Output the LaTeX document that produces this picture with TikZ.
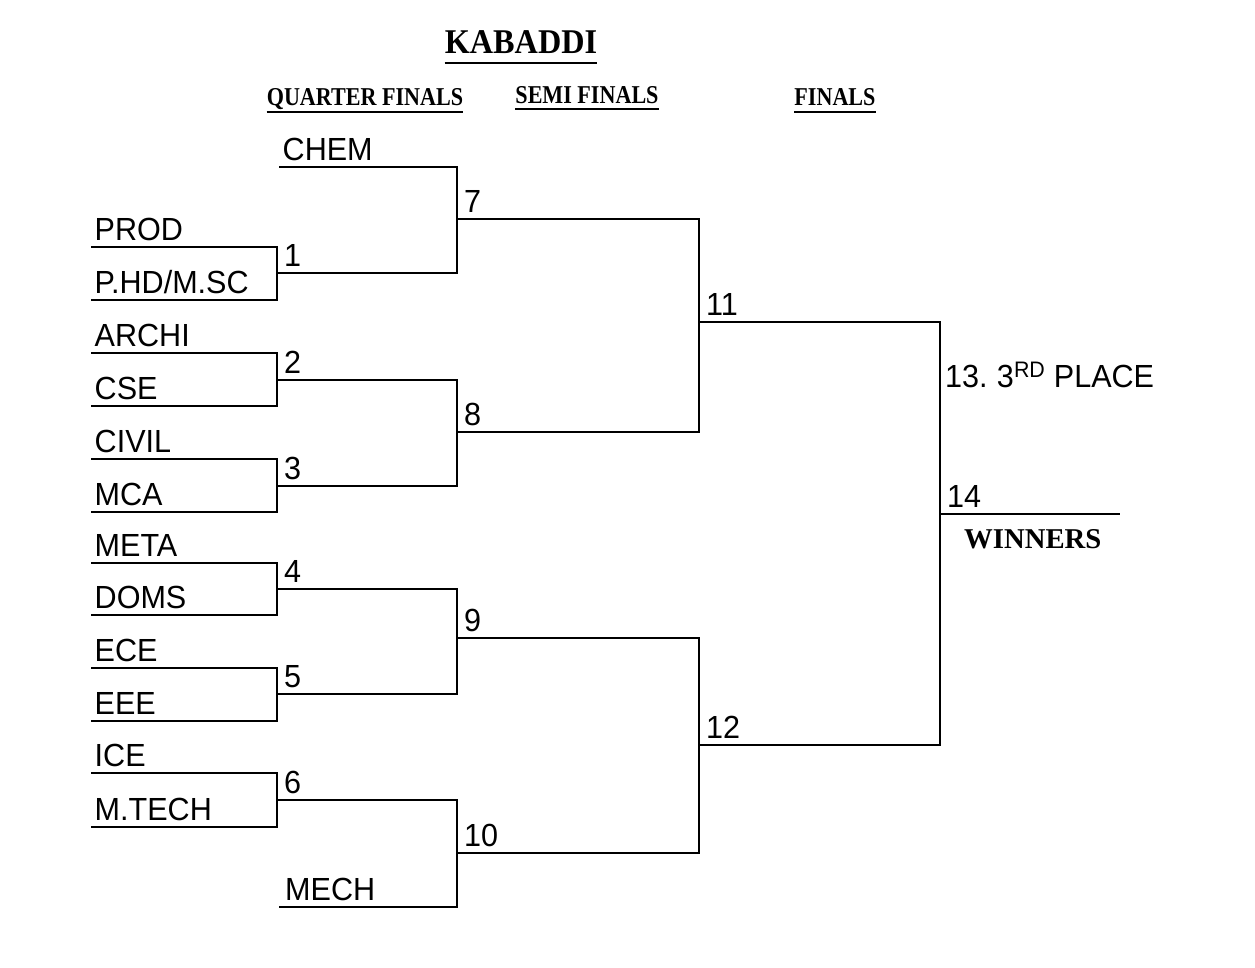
\documentclass[tikz,border=0pt]{standalone}
\usepackage{fontspec}
\setmainfont{Liberation Sans}[FakeStretch=0.955]
\newfontfamily\headserif[FakeStretch=0.86]{Liberation Serif}
\newfontfamily\titleserif[FakeStretch=0.93]{Liberation Serif}
\newfontfamily\plainserif{Liberation Serif}
\usepackage{tikz}
\usetikzlibrary{positioning,calc}
\tikzset{
  team/.style={anchor=south west, inner xsep=3.5pt, inner ysep=6pt, text depth=0pt,
    font=\fontsize{32}{38}\selectfont},
  num/.style={anchor=base west, inner sep=0pt, xshift=7pt, yshift=7pt,
    font=\fontsize{32}{38}\selectfont},
  head/.style={anchor=base, inner sep=0pt, font=\headserif\bfseries\fontsize{25.7}{30}\selectfont},
  bracket/.style={line width=2pt},
  uline/.style={line width=2pt}
}

\begin{document}
\begin{tikzpicture}[x=1pt, y=-1pt]
  \useasboundingbox (0,0) rectangle (1255,967);

  % headings
  \node[anchor=base, inner sep=0pt, font=\titleserif\bfseries\fontsize{34.7}{40}\selectfont] (title) at (521,53) {KABADDI};
  \node[head] (qf) at (365,105) {QUARTER FINALS};
  \node[head] (sf) at (587,103) {SEMI FINALS};
  \node[head] (fi) at (835,105) {FINALS};
  \draw[line width=2.5pt] ([yshift=-10pt]title.base west) -- ([yshift=-10pt]title.base east);
  \draw[uline] ([yshift=-6.5pt]qf.base west) -- ([yshift=-6.5pt]qf.base east);
  \draw[uline] ([yshift=-6pt]sf.base west) -- ([yshift=-6pt]sf.base east);
  \draw[uline] ([yshift=-6.5pt]fi.base west) -- ([yshift=-6.5pt]fi.base east);

  % teams
  \node[team] (chem)  at (279,167) {CHEM};
  \node[team] (prod)  at (91,247)  {PROD};
  \node[team] (phd)   at (91,300)  {P.HD/M.SC};
  \node[team] (archi) at (91,353)  {ARCHI};
  \node[team] (cse)   at (91,406)  {CSE};
  \node[team] (civil) at (91,459)  {CIVIL};
  \node[team] (mca)   at (91,512)  {MCA};
  \node[team] (meta)  at (91,563)  {META};
  \node[team] (doms)  at (91,615)  {DOMS};
  \node[team] (ece)   at (91,668)  {ECE};
  \node[team] (eee)   at (91,721)  {EEE};
  \node[team] (ice)   at (91,773)  {ICE};
  \node[team] (mtech) at (91,827)  {M.TECH};
  \node[team, inner xsep=6pt] (mech) at (279,907) {MECH};

  % match points
  \coordinate (m1)  at (277,273);
  \coordinate (m2)  at (277,380);
  \coordinate (m3)  at (277,486);
  \coordinate (m4)  at (277,589);
  \coordinate (m5)  at (277,694);
  \coordinate (m6)  at (277,800);
  \coordinate (m7)  at (457,219);
  \coordinate (m8)  at (457,432);
  \coordinate (m9)  at (457,638);
  \coordinate (m10) at (457,853);
  \coordinate (m11) at (699,322);
  \coordinate (m12) at (699,745);
  \coordinate (fin) at (940,514);
  \coordinate (win) at (1120,514);

  % quarter finals
  \draw[bracket] (prod.south west)  -| (m1) |- (phd.south west);
  \draw[bracket] (archi.south west) -| (m2) |- (cse.south west);
  \draw[bracket] (civil.south west) -| (m3) |- (mca.south west);
  \draw[bracket] (meta.south west)  -| (m4) |- (doms.south west);
  \draw[bracket] (ece.south west)   -| (m5) |- (eee.south west);
  \draw[bracket] (ice.south west)   -| (m6) |- (mtech.south west);
  % semi finals
  \draw[bracket] (chem.south west) -| (m7) |- (m1);
  \draw[bracket] (m2) -| (m8) |- (m3);
  \draw[bracket] (m4) -| (m9) |- (m5);
  \draw[bracket] (m6) -| (m10) |- (mech.south west);
  % finals
  \draw[bracket] (m7) -| (m11) |- (m8);
  \draw[bracket] (m9) -| (m12) |- (m10);
  \draw[bracket] (m11) -| (fin) |- (m12);
  \draw[bracket] (fin) -- (win);

  % match numbers
  \node[num] (n1)  at (m1)  {1};
  \node[num] (n2)  at (m2)  {2};
  \node[num] (n3)  at (m3)  {3};
  \node[num] (n4)  at (m4)  {4};
  \node[num] (n5)  at (m5)  {5};
  \node[num] (n6)  at (m6)  {6};
  \node[num] (n7)  at (m7)  {7};
  \node[num] (n8)  at (m8)  {8};
  \node[num] (n9)  at (m9)  {9};
  \node[num] (n10) at (m10) {10};
  \node[num] (n11) at (m11) {11};
  \node[num] (n12) at (m12) {12};
  \node[num] (n14) at (fin) {14};
  \node[anchor=base west, inner sep=0pt, font=\fontsize{32}{38}\selectfont] (third) at (945,387)
    {13.\kern-2pt{} 3\textsuperscript{RD} PLACE};
  \node[anchor=base west, inner sep=0pt, font=\plainserif\bfseries\fontsize{28.7}{34}\selectfont] (winners)
    at (964,548) {WINNERS};
\end{tikzpicture}
\end{document}
